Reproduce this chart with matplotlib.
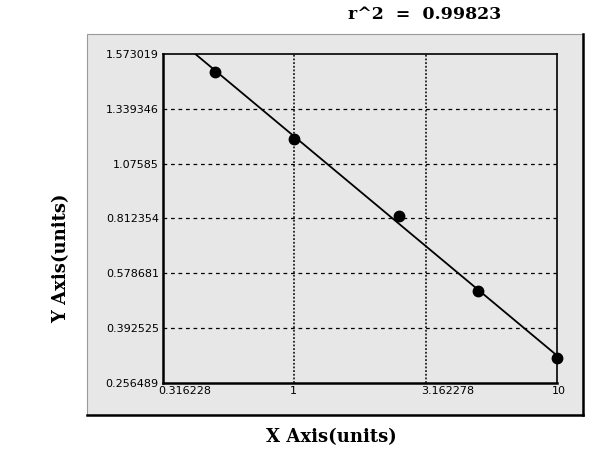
import numpy as np
import matplotlib
matplotlib.use('Agg')
import matplotlib.pyplot as plt
from matplotlib.patches import Rectangle
from matplotlib.lines import Line2D
import matplotlib.transforms as mtransforms

# standard curve data
conc = [0.5, 1.0, 2.5, 5.0, 10.0]
od = [1.492, 1.187, 0.823, 0.511, 0.311]
y_ticks = [0.256489, 0.392525, 0.578681, 0.812354, 1.07585, 1.339346, 1.573019]
x_ticks = [0.316228, 1.0, 3.162278, 10.0]
x_labels = ['0.316228', '1', '3.162278', '10']
y_labels = ['0.256489', '0.392525', '0.578681', '0.812354', '1.07585', '1.339346', '1.573019']
r2_text = 'r^2  =  0.99823'

panel_gray = '#e7e7e7'

# y axis: the tick values sit evenly spaced, interpolate between them in log space
log_ticks = np.log(y_ticks)
idx = np.arange(len(y_ticks), dtype=float)


def fwd(y):
    y = np.clip(np.asarray(y, dtype=float), 1e-6, None)
    ly = np.log(y)
    out = np.interp(ly, log_ticks, idx)
    lo = ly < log_ticks[0]
    hi = ly > log_ticks[-1]
    out = np.where(lo, (ly - log_ticks[0]) / (log_ticks[1] - log_ticks[0]), out)
    out = np.where(hi, idx[-1] + (ly - log_ticks[-1]) / (log_ticks[-1] - log_ticks[-2]), out)
    return out


def inv(k):
    k = np.asarray(k, dtype=float)
    out = np.interp(k, idx, log_ticks)
    out = np.where(k < 0, log_ticks[0] + k * (log_ticks[1] - log_ticks[0]), out)
    out = np.where(k > idx[-1], log_ticks[-1] + (k - idx[-1]) * (log_ticks[-1] - log_ticks[-2]), out)
    return np.exp(out)


fig = plt.figure(figsize=(6, 4.54), dpi=100)
fig.patch.set_facecolor('white')

# grey panel behind the plot, 3d-ish border
panel = Rectangle((0.145, 0.086), 0.827, 0.839, transform=fig.transFigure,
                  facecolor=panel_gray, edgecolor='#9a9a9a', linewidth=0.8, zorder=-2)
fig.patches.append(panel)
fig.lines.append(Line2D([0.145, 0.972], [0.086, 0.086], transform=fig.transFigure,
                        color='black', linewidth=1.8, zorder=-1))
fig.lines.append(Line2D([0.972, 0.972], [0.086, 0.925], transform=fig.transFigure,
                        color='black', linewidth=1.8, zorder=-1))

ax = fig.add_axes([0.2717, 0.1564, 0.6567, 0.7247])
ax.set_facecolor(panel_gray)
ax.set_xscale('log')
ax.set_yscale('function', functions=(fwd, inv))
ax.set_xlim(x_ticks[0], x_ticks[-1])
ax.set_ylim(y_ticks[0], y_ticks[-1])

# fitted line, straight in the plotted space
lx = np.log10(conc)
k = fwd(od)
slope, icpt = np.polyfit(lx, k, 1)
x_start = 10 ** ((idx[-1] - icpt) / slope)
xs = np.logspace(np.log10(x_start), np.log10(conc[-1]), 200)
ax.plot(xs, inv(slope * np.log10(xs) + icpt), color='black', linewidth=1.3, zorder=3)
ax.plot(conc, od, 'o', color='black', markersize=7.5, zorder=4, clip_on=False)

# grid
for yv in y_ticks[1:-1]:
    ax.axhline(yv, color='black', linestyle=(0, (3, 3)), linewidth=0.9, zorder=1)
for xv in x_ticks[1:-1]:
    ax.axvline(xv, color='black', linestyle=(0, (1.2, 1.2)), linewidth=1.1, zorder=1)

ax.set_xticks(x_ticks)
ax.set_xticklabels(x_labels)
ax.xaxis.set_minor_locator(matplotlib.ticker.NullLocator())
ax.set_yticks(y_ticks)
ax.set_yticklabels(y_labels)
ax.yaxis.set_minor_locator(matplotlib.ticker.NullLocator())
ax.tick_params(length=0, labelsize=8, pad=3)
ax.tick_params(axis='x', pad=2)
offset = mtransforms.ScaledTranslation(-5 / 100, 0, fig.dpi_scale_trans)
for lab in ax.get_xticklabels():
    lab.set_horizontalalignment('left')
    lab.set_transform(lab.get_transform() + offset)

for side in ['left', 'bottom']:
    ax.spines[side].set_linewidth(1.8)
for side in ['top', 'right']:
    ax.spines[side].set_linewidth(1.2)

serif = ['DejaVu Serif']
fig.text(0.708, 0.968, r2_text, ha='center', va='center', fontsize=12.5,
         fontweight='bold', family=serif)
fig.text(0.552, 0.038, 'X Axis(units)', ha='center', va='center', fontsize=13,
         fontweight='bold', family=serif)
fig.text(0.102, 0.432, 'Y Axis(units)', ha='center', va='center', fontsize=13,
         fontweight='bold', family=serif, rotation=90)

plt.savefig('out.png', dpi=100)
